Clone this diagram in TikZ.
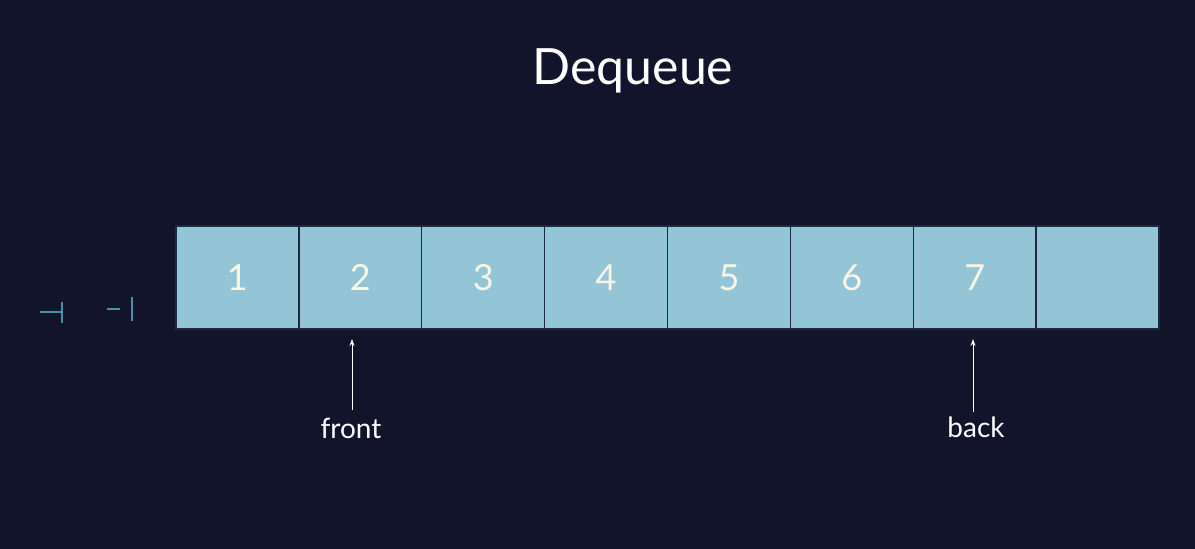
\documentclass[tikz,border=0pt]{standalone}
\usepackage{fontspec}
\setmainfont{Lato}
\usetikzlibrary{arrows.meta}
\definecolor{bg}{HTML}{12142B}
\definecolor{cellfill}{HTML}{93C5D6}
\definecolor{cellline}{HTML}{1E2A3C}
\definecolor{numcol}{HTML}{F7F5E8}
\definecolor{mark}{HTML}{4A8FA8}
\tikzset{
  cell/.style={draw=cellline, line width=1.3pt, fill=cellfill, minimum width=122.9pt, minimum height=103pt, inner sep=0pt, outer sep=0pt, font=\fontsize{36}{40}\selectfont, text=numcol},
  pointer/.style={draw=white, line width=1pt, -{Stealth[length=7pt,width=5pt]}},
  label/.style={text=white, font=\fontsize{28}{32}\selectfont, inner sep=0pt},
  tick/.style={draw=mark, line width=1.6pt}
}
\begin{document}
\begin{tikzpicture}[x=1pt,y=-1pt]
\fill[bg] (0,0) rectangle (1195,549);
\useasboundingbox (0,0) rectangle (1195,549);
\node[text=white, font=\fontsize{50}{56}\selectfont, inner sep=0pt] (title) at (633,71) {Dequeue};
\foreach \i/\t in {1/1,2/2,3/3,4/4,5/5,6/6,7/7,8/{}} {
  \node[cell] (c\i) at ({176+122.875*(\i-0.5)},277.5) {\t};
}
\node[label] (front) at (351,428) {front};
\node[label] (back) at (976,427) {back};
\coordinate (fs) at (352,410);
\coordinate (ft) at (352,339);
\coordinate (bs) at (973,412);
\coordinate (bt) at (973,339);
\draw[pointer] (fs) -- (ft);
\draw[pointer] (bs) -- (bt);
\coordinate (m1a) at (40,312); \coordinate (m1b) at (61,312);
\coordinate (m1c) at (62,302); \coordinate (m1d) at (62,323);
\coordinate (m2a) at (107,309); \coordinate (m2b) at (120,309);
\coordinate (m2c) at (132,297); \coordinate (m2d) at (132,321);
\draw[tick] (m1a) -- (m1b);
\draw[tick] (m1c) -- (m1d);
\draw[tick] (m2a) -- (m2b);
\draw[tick] (m2c) -- (m2d);
\end{tikzpicture}
\end{document}
